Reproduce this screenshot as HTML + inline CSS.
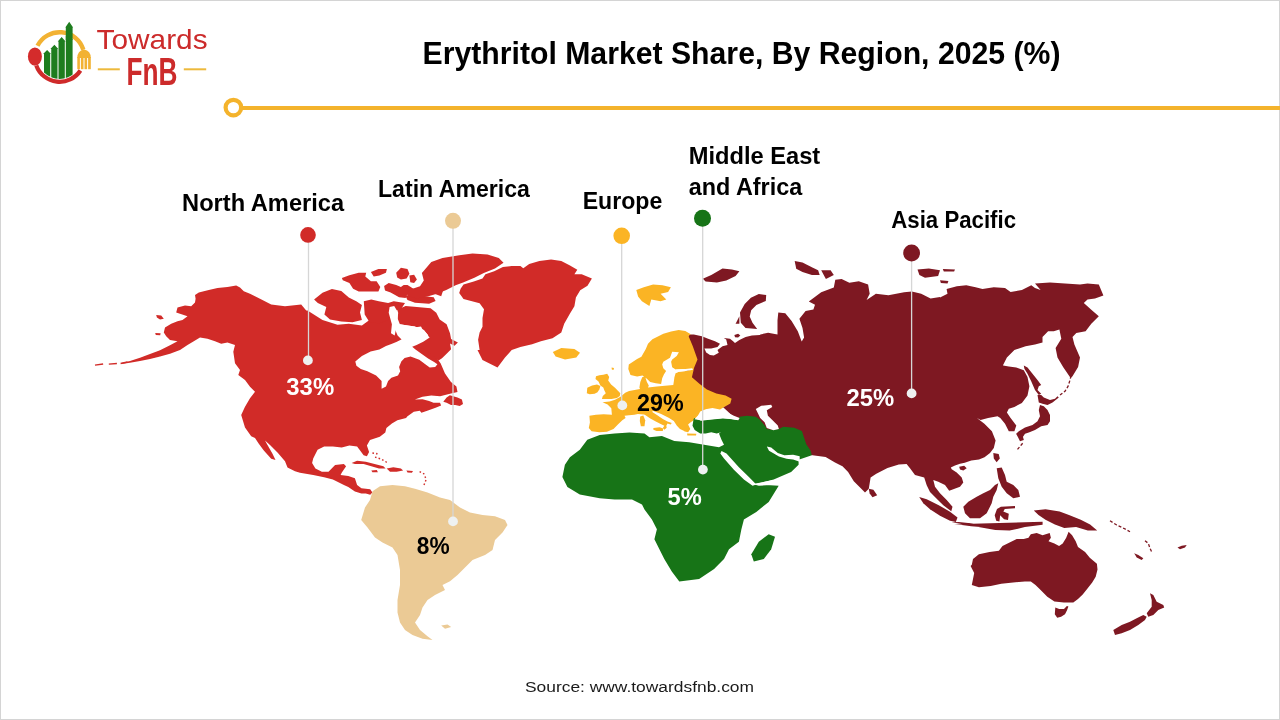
<!DOCTYPE html>
<html><head><meta charset="utf-8">
<style>
html,body{margin:0;padding:0;background:#fff;}
body{width:1280px;height:720px;overflow:hidden;position:relative;}
svg{position:absolute;left:0;top:0;display:block;will-change:transform;}
text{font-family:"Liberation Sans",sans-serif;}
</style></head>
<body>
<svg width="1280" height="720" viewBox="0 0 1280 720">
<rect x="0.5" y="0.5" width="1279" height="719" fill="#fff" stroke="#d4d4d4" stroke-width="1"/>
<!-- logo -->
<g id="logo">
  <defs><clipPath id="bc"><circle cx="59.6" cy="57" r="22"/></clipPath></defs>
  <path d="M37.50 45.74 A24.8 24.8 0 0 1 83.32 49.75" fill="none" stroke="#F2B233" stroke-width="4.4"/>
  <path d="M36.30 65.48 A24.8 24.8 0 0 0 80.40 70.51" fill="none" stroke="#CF2A2A" stroke-width="4.2"/>
  <ellipse cx="34.9" cy="56.6" rx="7" ry="9.2" fill="#D42B2B"/>
  <g fill="#F2B233">
    <path d="M77.3 58 Q77.3 50.8 84 49.6 Q90.8 50.8 90.8 58 Z"/>
    <rect x="77.3" y="57" width="2.6" height="12.2"/>
    <rect x="80.9" y="57" width="2.6" height="12.2"/>
    <rect x="84.5" y="57" width="2.6" height="12.2"/>
    <rect x="88.1" y="57" width="2.7" height="12.2"/>
  </g>
  <g fill="#1E7D1E" clip-path="url(#bc)">
    <path d="M44 90 L44 54 L43.1 54 L47.1 50 L51 54 L50.2 54 L50.2 90 Z"/>
    <path d="M51.25 90 L51.25 48.9 L50.4 48.9 L54.4 44.7 L58.3 48.9 L57.5 48.9 L57.5 90 Z"/>
    <path d="M58.5 90 L58.5 41.6 L57.7 41.6 L61.65 36.9 L65.6 41.6 L64.8 41.6 L64.8 90 Z"/>
    <path d="M65.8 90 L65.8 27.5 L65.3 27.5 L69.2 21.8 L73.1 27.5 L72.6 27.5 L72.6 90 Z"/>
  </g>
  <path d="M65.8 40 L65.8 27.5 L65.3 27.5 L69.2 21.8 L73.1 27.5 L72.6 27.5 L72.6 40 Z" fill="#1E7D1E"/>
  <text x="96.6" y="49.3" font-size="28.5" font-weight="normal" fill="#CC2B2B" textLength="111" lengthAdjust="spacingAndGlyphs">Towards</text>
  <text x="126.4" y="84.5" font-size="38" font-weight="bold" fill="#CC2B2B" textLength="51" lengthAdjust="spacingAndGlyphs">FnB</text>
  <rect x="97.8" y="68.3" width="22" height="2" fill="#EDB93C"/>
  <rect x="183.8" y="68.3" width="22.4" height="2" fill="#EDB93C"/>
</g>
<!-- title -->
<text x="422.5" y="63.8" font-size="31.5" font-weight="bold" fill="#000" textLength="638" lengthAdjust="spacingAndGlyphs">Erythritol Market Share, By Region, 2025 (%)</text>
<!-- yellow rule -->
<rect x="241" y="106" width="1039" height="4" fill="#F4B32C"/>
<circle cx="233.4" cy="107.6" r="7.8" fill="#fff" stroke="#F4B32C" stroke-width="4.2"/>

<g id="map">
<g fill="#D12B28">
<path d="M235.0 345.0 L227.5 342.5 L221.2 343.8 L215.0 341.2 L207.5 338.8 L200.0 337.5 L193.8 341.2 L187.5 345.0 L180.0 350.0 L170.0 353.8 L160.0 356.5 L150.0 359.0 L140.0 361.0 L130.0 362.8 L121.2 364.0 L121.2 363.0 L130.0 361.0 L140.0 357.8 L150.0 354.0 L160.0 350.2 L170.0 345.2 L177.5 341.2 L170.0 340.0 L166.2 336.2 L163.8 332.5 L165.0 327.5 L171.2 323.8 L177.5 321.2 L182.5 320.0 L187.5 316.2 L180.0 313.8 L176.2 312.5 L177.5 307.5 L185.0 305.6 L191.2 306.2 L195.0 302.5 L195.6 298.8 L195.0 295.0 L198.8 292.5 L208.8 290.0 L217.5 288.1 L227.5 286.9 L236.2 285.6 L240.0 287.5 L243.8 291.2 L250.0 293.8 L260.0 298.8 L271.2 304.5 L285.0 306.2 L301.2 304.5 L306.2 310.5 L307.5 310.6 L322.5 320.0 L337.5 324.7 L348.8 323.8 L361.9 325.6 L372.2 318.1 L376.9 308.8 L384.4 305.0 L391.9 306.9 L394.7 314.4 L393.8 321.9 L397.5 329.4 L402.2 333.1 L412.5 342.5 L431.3 350.0 L440.7 363.6 L445.0 373.5 L452.7 384.4 L445.5 375.5 L451.0 382.0 L456.4 386.4 L457.5 391.9 L451.0 393.5 L440.0 396.3 L431.3 395.4 L422.5 396.8 L414.9 399.5 L422.5 399.3 L429.1 400.9 L433.5 402.8 L440.0 402.8 L441.1 405.6 L435.6 407.7 L428.0 410.5 L421.4 412.7 L419.8 410.7 L413.8 411.8 L407.2 416.5 L406.1 418.1 L397.4 420.3 L391.9 423.6 L386.4 428.0 L385.3 432.4 L379.8 436.7 L370.0 440.0 L366.9 445.4 L369.1 451.9 L366.9 456.3 L363.6 455.2 L360.3 450.8 L357.1 446.5 L349.4 445.4 L341.7 447.6 L332.9 446.5 L324.1 446.5 L317.6 449.7 L313.2 458.5 L312.1 462.9 L315.4 468.4 L321.9 471.7 L328.5 471.7 L332.9 467.3 L335.1 465.1 L343.9 464.0 L346.1 466.2 L341.7 472.8 L340.6 475.0 L348.3 476.1 L354.9 478.3 L357.1 484.9 L361.4 488.2 L370.2 489.2 L372.4 492.5 L370.2 494.7 L365.8 493.6 L361.4 493.6 L354.9 491.4 L348.3 487.1 L343.9 484.9 L332.9 479.4 L324.1 477.2 L313.2 475.0 L300.0 472.8 L295.0 471.2 L287.5 467.5 L285.0 461.2 L277.5 452.5 L270.0 445.0 L265.0 440.5 L267.5 445.0 L272.5 453.8 L275.5 460.0 L271.2 458.8 L263.8 450.5 L258.8 443.8 L255.0 438.0 L251.2 436.2 L245.0 427.5 L241.2 415.0 L245.0 406.7 L250.0 398.3 L255.0 391.7 L250.0 386.7 L245.0 380.0 L238.3 375.0 L240.0 370.0 L235.0 363.3 L233.3 351.7Z"/>
<path d="M397.6 309.4 L405.6 305.9 L416.9 307.1 L430.6 308.2 L436.3 312.8 L439.7 319.6 L446.6 324.2 L450.0 333.3 L451.1 339.0 L457.9 342.4 L454.5 345.8 L450.0 343.5 L451.1 349.2 L446.6 353.8 L442.0 358.3 L438.6 360.6 L432.9 356.1 L428.3 351.5 L419.2 346.9 L411.3 345.8 L409.0 343.5 L414.7 341.3 L423.8 340.1 L428.3 335.6 L423.8 329.9 L414.7 326.4 L405.6 325.3 L399.9 324.2 L397.6 318.5Z"/>
<path d="M341.9 278.0 L349.4 275.2 L358.7 272.8 L366.2 272.8 L365.3 276.6 L370.9 281.2 L376.6 281.2 L380.3 286.9 L378.4 291.6 L368.1 291.6 L358.7 291.6 L353.1 288.7 L349.4 283.1 L342.8 280.3Z"/>
<path d="M370.9 271.9 L378.4 269.1 L386.9 269.1 L385.9 272.8 L379.4 275.6 L373.7 276.6Z"/>
<path d="M396.2 272.8 L400.9 267.7 L407.5 269.1 L409.4 273.7 L406.6 278.4 L400.9 279.4 L397.2 277.5Z"/>
<path d="M409.4 275.6 L414.1 274.7 L416.9 279.4 L414.1 283.1 L410.3 282.2Z"/>
<path d="M384.1 285.9 L388.7 283.1 L396.2 285.0 L400.9 286.9 L403.7 285.0 L407.5 285.0 L415.0 289.7 L422.5 287.8 L430.0 283.1 L433.7 285.0 L443.1 290.6 L441.2 296.2 L433.7 293.4 L424.4 292.5 L417.8 292.5 L413.1 294.4 L407.5 294.4 L405.6 298.1 L399.1 297.2 L390.6 292.5 L385.0 290.6Z"/>
<path d="M405.6 296.2 L411.2 294.4 L424.4 296.2 L433.7 297.2 L435.6 300.9 L429.1 303.7 L415.0 302.8 L407.5 300.0Z"/>
<path d="M421.9 273.1 L431.3 261.9 L442.5 258.1 L459.4 255.3 L472.5 253.4 L487.5 254.4 L498.8 258.1 L503.5 262.8 L495.0 268.4 L483.8 273.1 L474.4 277.8 L463.1 282.5 L455.6 285.3 L446.3 290.0 L436.9 293.8 L427.5 296.6 L416.3 298.4 L406.9 295.6 L408.8 290.0 L420.0 286.3 L423.8 280.6Z"/>
<path d="M314.1 299.4 L322.5 292.8 L331.9 289.1 L341.3 290.9 L348.8 297.5 L356.3 301.3 L361.9 305.0 L360.0 312.5 L361.9 320.0 L352.5 322.3 L341.3 321.5 L330.0 319.6 L324.4 314.4 L326.3 306.9 L317.8 303.1Z"/>
<path d="M363.8 301.3 L371.3 299.4 L378.8 301.3 L388.1 303.1 L393.8 301.3 L405.0 303.1 L401.3 308.8 L391.9 312.5 L388.1 320.0 L378.8 323.4 L369.4 321.9 L364.7 314.4Z"/>
<path d="M443.3 401.7 L446.6 397.4 L449.9 395.2 L453.2 396.3 L457.5 397.4 L461.9 399.5 L463.0 403.9 L459.7 406.1 L455.3 405.0 L451.0 405.0 L446.6 402.8Z"/>
<path d="M351.6 462.9 L357.1 460.7 L365.8 461.8 L374.6 464.0 L383.4 466.2 L385.6 468.4 L379.0 468.4 L371.3 466.2 L363.6 464.0 L354.9 464.0Z"/>
<path d="M386.7 468.4 L393.3 467.3 L400.9 468.4 L403.1 470.6 L396.6 471.7 L390.0 471.7Z"/>
<path d="M371.3 470.6 L376.8 470.0 L377.9 472.2 L372.4 472.2Z"/>
<path d="M406.4 470.6 L413.0 471.1 L411.9 472.8 L407.5 472.6Z"/>
<path d="M156.2 315.0 L161.2 315.6 L163.8 318.8 L160.0 319.4 L156.9 317.5Z"/>
<path d="M155.2 333.1 L160.6 333.2 L160.2 335.2 L155.8 335.0Z"/>
<path d="M460.6 288.8 L463.5 284.4 L473.8 281.5 L482.5 278.5 L485.4 274.2 L494.2 271.3 L502.9 266.9 L511.7 266.1 L520.4 266.1 L523.3 268.3 L529.2 264.0 L539.4 261.0 L551.1 259.6 L561.3 261.0 L570.0 265.4 L577.3 269.8 L574.4 274.2 L581.7 274.2 L591.9 278.5 L587.5 285.8 L580.2 290.2 L575.9 297.5 L574.4 306.3 L570.0 313.6 L564.2 323.8 L561.3 332.5 L552.5 338.3 L540.9 341.3 L532.1 344.2 L520.4 347.1 L511.7 350.0 L505.0 357.5 L497.5 367.5 L492.5 365.0 L482.5 360.0 L477.5 350.0 L479.6 350.0 L478.1 339.8 L479.6 332.5 L482.5 326.7 L482.5 317.9 L484.0 309.2 L479.6 303.3 L463.5 299.0 L459.2 293.1Z"/>
<path d="M95.0 365.2 L103.1 364.0" stroke="#D12B28" stroke-width="1.3" fill="none"/>
<path d="M108.8 364.2 L116.9 363.5" stroke="#D12B28" stroke-width="1.3" fill="none"/>
<path d="M120.6 363.5 L127.5 362.0" stroke="#D12B28" stroke-width="1.3" fill="none"/>
<path d="M372.4 453.0 L376.8 453.6 L375.7 457.4 L381.2 459.1 L387.8 462.9" stroke="#D12B28" stroke-width="1.4" stroke-dasharray="1.6 2.2" fill="none"/>
<path d="M419.6 471.7 L424.0 473.9 L426.2 479.4 L424.0 484.9" stroke="#D12B28" stroke-width="1.4" stroke-dasharray="1.6 2.2" fill="none"/>
</g>
<path fill="#fff" d="M355.3 361.4 L361.9 356.0 L370.6 351.6 L379.4 349.4 L386.0 346.1 L391.4 343.9 L396.9 341.7 L401.3 339.5 L407.8 335.2 L414.4 327.5 L421.0 326.4 L423.2 330.8 L418.8 334.1 L427.5 335.2 L429.7 337.4 L423.2 341.7 L416.6 345.0 L412.2 346.7 L415.5 349.4 L422.1 354.3 L428.1 358.4 L434.1 362.0 L437.4 364.2 L435.2 366.9 L429.7 367.4 L425.3 364.2 L419.3 359.8 L410.6 356.5 L404.6 358.1 L401.3 361.4 L399.1 366.9 L400.2 371.3 L398.0 375.6 L391.4 377.8 L388.1 381.1 L386.0 386.6 L381.6 388.8 L381.6 381.1 L376.1 375.6 L367.4 371.3 L360.8 369.1 L356.4 365.8Z"/>
<path fill="#fff" d="M399.9 324.2 L414.7 326.4 L423.8 329.9 L428.3 335.6 L423.8 340.1 L414.7 341.3 L409.0 343.5 L403.3 341.3 L397.6 335.6 L394.2 327.6Z"/>
<path fill="#fff" d="M389.6 307.1 L394.2 305.9 L398.2 312.8 L397.0 324.2 L394.7 335.6 L391.0 333.3 L391.9 324.2 L388.7 312.8Z"/>
<path fill="#7E1822" d="M688.5 335.9 L689.4 334.4 L693.8 334.4 L701.9 336.2 L708.1 338.8 L715.0 341.2 L720.0 343.8 L717.5 346.9 L711.2 348.4 L704.4 348.4 L706.2 352.5 L710.0 355.0 L713.8 355.6 L718.8 352.8 L717.5 350.0 L722.5 346.2 L727.5 345.0 L726.2 339.4 L723.8 338.1 L730.0 338.8 L733.1 341.2 L735.0 343.1 L739.4 340.0 L745.6 336.9 L751.9 335.6 L760.0 335.0 L760.3 334.4 L768.1 332.8 L777.5 334.4 L777.5 320.3 L778.3 312.5 L785.3 313.3 L791.6 321.1 L797.8 331.2 L801.7 341.4 L804.1 337.5 L802.5 328.1 L799.4 318.8 L805.6 310.9 L813.4 309.4 L815.0 304.7 L808.8 301.6 L821.2 292.2 L833.8 287.5 L835.3 279.7 L841.6 278.9 L849.4 282.8 L858.8 281.2 L868.1 284.4 L869.7 293.8 L866.6 300.0 L875.9 293.8 L888.4 295.3 L904.1 292.2 L911.9 291.4 L921.2 293.8 L930.6 298.4 L940.0 296.9 L940.0 297.5 L947.5 293.8 L946.6 289.1 L956.9 286.3 L966.3 285.3 L975.6 287.2 L982.5 289.1 L993.8 287.2 L1005.0 288.1 L1010.6 291.9 L1021.9 290.0 L1031.3 285.3 L1035.0 288.1 L1040.6 290.0 L1035.0 283.4 L1050.0 282.5 L1065.0 283.4 L1080.0 284.4 L1087.5 283.4 L1098.8 284.4 L1103.4 295.6 L1095.0 298.4 L1087.5 299.4 L1083.8 303.1 L1091.3 309.7 L1098.8 316.3 L1091.3 323.8 L1085.6 331.3 L1076.3 333.1 L1072.5 336.9 L1074.4 344.4 L1080.0 357.5 L1078.1 366.9 L1072.5 376.3 L1070.6 378.1 L1063.1 366.9 L1057.5 357.5 L1055.6 348.1 L1061.3 338.8 L1059.4 329.4 L1053.8 331.3 L1048.1 331.3 L1042.5 336.9 L1042.5 342.5 L1035.0 344.4 L1025.6 346.3 L1014.4 350.0 L1006.9 357.5 L1003.1 365.0 L1003.1 365.6 L1008.8 366.6 L1016.3 367.5 L1023.8 370.3 L1027.5 376.9 L1029.4 386.3 L1027.5 395.6 L1021.9 403.1 L1014.4 406.9 L1008.8 408.8 L1006.9 412.5 L1010.6 418.1 L1016.3 425.6 L1014.4 431.3 L1008.8 431.3 L1005.0 423.8 L1000.3 418.1 L997.5 416.3 L988.1 418.1 L980.6 420.0 L976.9 418.1 L984.4 423.8 L991.9 431.3 L995.6 440.6 L993.8 448.1 L990.0 452.9 L984.5 457.3 L979.0 459.5 L971.3 460.6 L964.7 462.8 L968.3 462.1 L960.0 463.8 L955.0 465.4 L950.8 467.5 L951.7 469.2 L956.7 472.5 L961.7 477.5 L963.3 482.5 L960.0 486.7 L953.3 489.2 L949.2 490.8 L945.0 485.0 L938.3 481.7 L933.3 480.0 L935.0 486.7 L940.0 493.3 L946.7 500.0 L952.5 506.7 L951.3 511.3 L943.3 505.3 L936.7 498.7 L930.0 492.0 L926.7 485.3 L924.2 477.5 L915.0 475.0 L910.0 468.3 L906.6 463.9 L898.8 464.4 L887.5 468.1 L876.3 473.8 L870.6 477.5 L868.8 488.8 L865.0 492.5 L861.3 488.8 L853.8 481.3 L848.1 471.9 L842.5 466.3 L835.0 462.5 L825.6 456.9 L810.6 455.0 L808.5 450.8 L799.7 446.4 L777.8 439.9 L755.8 431.1 L739.4 422.3 L722.9 406.9 L682.5 395.0 L686.3 376.3 L682.5 357.5 L682.5 348.1Z"/>
<g fill="#7E1822"><path d="M971.8 564.8 L973.0 558.9 L978.9 554.2 L989.5 551.9 L998.9 550.7 L1002.5 546.0 L1009.6 542.4 L1016.7 538.9 L1023.7 538.9 L1028.5 537.7 L1030.8 534.2 L1036.7 533.0 L1042.6 535.3 L1049.7 533.0 L1050.9 537.7 L1048.5 541.2 L1054.4 543.6 L1059.1 546.0 L1062.7 543.6 L1066.2 537.7 L1068.6 531.8 L1072.1 535.3 L1075.7 541.2 L1078.0 547.1 L1085.1 551.9 L1089.8 557.8 L1096.9 563.7 L1097.5 569.6 L1095.7 576.7 L1092.2 582.6 L1087.5 588.5 L1082.7 594.4 L1078.0 599.1 L1073.3 602.6 L1063.9 602.6 L1054.4 601.4 L1047.3 596.7 L1042.6 592.0 L1039.1 588.5 L1035.5 584.9 L1030.8 581.4 L1024.9 581.4 L1013.1 582.6 L1001.3 583.7 L990.7 586.1 L978.9 587.3 L971.8 584.9 L973.0 579.0 L974.2 573.1 L970.6 566.0Z"/><path d="M1055.3 607.5 L1059.2 609.0 L1064.0 609.0 L1066.9 606.0 L1068.4 606.5 L1066.9 610.4 L1065.0 614.3 L1061.1 616.7 L1057.2 617.7 L1054.8 614.3Z"/><path d="M1033.8 510.4 L1045.5 509.2 L1059.6 511.6 L1069.0 515.1 L1080.8 519.8 L1090.1 524.5 L1097.2 530.4 L1087.8 530.4 L1076.1 526.9 L1064.3 528.0 L1054.9 524.5 L1045.5 519.8 L1038.5 515.1Z"/><path d="M963.3 506.7 L968.3 501.7 L976.7 496.7 L983.3 493.3 L990.0 490.0 L995.0 485.0 L998.3 483.3 L996.7 490.0 L993.3 496.7 L991.7 503.3 L986.7 513.3 L980.0 518.3 L970.0 518.3 L965.0 513.3Z"/><path d="M997.0 509.1 L1000.9 506.7 L1015.0 505.9 L1015.0 508.3 L1004.8 509.1 L1003.3 511.4 L1008.8 513.8 L1008.0 520.0 L1004.1 519.2 L1000.2 515.3 L999.4 521.6 L996.2 520.8 L994.7 515.3Z"/><path d="M996.7 468.3 L1001.7 467.5 L1005.0 475.0 L1006.7 481.7 L1013.3 485.0 L1018.3 490.0 L1020.0 496.7 L1013.3 498.3 L1006.7 493.3 L1001.7 486.7 L998.3 478.3Z"/><path d="M919.2 497.0 L926.7 499.2 L938.3 505.0 L950.0 511.7 L957.5 517.5 L955.8 522.0 L950.0 520.8 L940.0 515.8 L930.0 509.2 L923.3 503.3Z"/><path d="M951.7 522.3 L958.8 522.0 L968.1 523.1 L979.1 525.1 L985.3 526.2 L993.1 526.6 L1000.9 526.2 L1015.0 526.2 L1015.0 527.8 L1007.2 528.6 L997.0 529.4 L989.2 528.2 L980.6 527.0 L971.2 526.2 L961.9 525.1 L954.1 524.3 L1042.6 521.8 L1042.6 524.7 L1024.9 527.1 L1009.6 530.6 L995.4 530.0Z"/><path d="M1040.0 405.0 L1043.8 406.2 L1047.5 410.0 L1050.0 415.0 L1050.0 421.2 L1047.5 425.0 L1041.2 426.2 L1035.0 430.0 L1028.8 432.5 L1025.0 433.8 L1022.5 437.5 L1018.8 436.2 L1016.2 433.8 L1018.8 431.2 L1025.0 427.5 L1032.5 425.0 L1037.5 421.2 L1040.0 416.2 L1038.8 410.0Z"/><path d="M1037.5 395.0 L1041.2 395.0 L1043.8 397.5 L1050.0 400.0 L1055.0 398.8 L1057.5 396.2 L1058.8 397.5 L1052.5 402.5 L1047.5 405.0 L1042.5 403.8 L1038.8 402.5Z"/><path d="M1023.8 365.6 L1027.5 367.5 L1032.5 373.8 L1037.5 380.0 L1041.2 385.0 L1038.8 386.2 L1037.5 390.0 L1041.2 393.8 L1038.8 395.0 L1035.0 390.0 L1031.2 381.2 L1027.5 373.8 L1024.4 368.8Z"/><path d="M1016.2 433.8 L1022.5 435.0 L1023.8 440.0 L1020.0 441.2Z"/><path d="M993.3 452.9 L998.7 454.0 L999.8 458.4 L996.6 462.2 L993.8 458.4Z"/><path d="M868.8 488.8 L873.4 489.7 L877.2 495.3 L872.5 497.2 L869.7 493.4Z"/><path d="M959.2 466.7 L964.2 465.8 L966.7 468.3 L963.3 470.4 L960.0 469.6Z"/><path d="M1150.0 593.3 L1153.3 595.0 L1156.7 601.7 L1163.3 605.0 L1164.2 607.5 L1158.3 610.0 L1153.3 615.0 L1148.3 616.7 L1146.7 613.3 L1151.7 606.7 L1151.7 600.0Z"/><path d="M1113.3 630.0 L1121.7 625.0 L1130.0 621.7 L1136.7 618.3 L1143.3 615.0 L1146.7 616.7 L1145.0 620.0 L1138.3 625.0 L1130.0 630.0 L1121.7 633.3 L1115.0 635.0Z"/><path d="M1134.2 553.3 L1138.3 555.0 L1143.3 558.3 L1141.7 560.0 L1136.7 557.5Z"/><path d="M1177.5 547.5 L1181.7 545.8 L1186.7 545.0 L1185.0 547.5 L1180.0 549.2Z"/><path d="M794.7 260.9 L802.5 262.5 L811.9 267.2 L818.1 270.3 L819.7 275.0 L811.9 275.0 L802.5 271.9 L796.2 268.8Z"/><path d="M821.2 270.3 L830.6 270.3 L833.8 275.0 L825.9 278.9Z"/><path d="M917.5 269.4 L928.8 268.4 L940.0 270.3 L938.1 275.9 L925.0 277.8 L919.4 275.0Z"/><path d="M942.8 269.0 L955.0 269.4 L954.1 271.6 L943.8 271.6Z"/><path d="M940.0 280.3 L948.4 281.0 L947.5 283.4 L940.9 282.9Z"/><path d="M734.4 335.0 L738.1 333.8 L740.3 335.6 L738.1 337.5 L735.0 337.2Z"/><path d="M702.8 278.8 L711.3 275.0 L722.5 268.4 L731.9 269.4 L739.4 271.3 L735.6 275.9 L726.3 280.6 L716.9 282.5 L705.6 281.6Z"/><path d="M766.2 295.0 L758.8 294.1 L750.9 297.7 L744.7 303.9 L740.0 312.5 L740.8 322.7 L745.5 328.1 L757.2 328.9 L752.5 322.7 L749.7 316.4 L751.2 310.2 L756.4 305.0 L765.8 300.9Z"/><path d="M739.4 323.8 L739.4 316.3 L735.6 323.8Z"/></g>
<g fill="none" stroke="#7E1822" stroke-width="1.3" stroke-dasharray="3 2"><path d="M1110.0 520.8 L1116.7 525.0 L1123.7 528.3 L1130.0 531.7"/><path d="M1145.0 540.8 L1148.3 543.3 L1150.0 548.3 L1151.7 552.0"/><path d="M1060.0 395.0 L1065.0 391.2 L1068.1 386.2 L1070.0 380.0 L1071.2 375.0"/><path d="M1017.5 449.4 L1021.2 445.0 L1023.8 441.9"/></g>
<path fill="#FBB424" d="M628.3 368.9 L628.8 364.5 L637.1 359.0 L641.4 356.8 L645.8 349.1 L648.0 343.7 L652.4 339.3 L663.4 333.8 L671.1 331.6 L678.7 329.9 L685.3 331.0 L690.8 334.3 L688.5 335.9 L692.8 346.3 L697.5 359.4 L694.1 367.8 L691.9 377.2 L699.4 383.8 L706.9 389.4 L716.3 393.5 L725.6 395.4 L731.6 398.8 L730.3 403.4 L723.8 407.2 L720.0 409.6 L712.5 408.1 L706.9 409.1 L705.7 409.3 L700.2 411.5 L698.0 415.8 L695.8 419.1 L690.3 422.4 L688.1 424.6 L690.3 429.0 L688.1 432.3 L683.7 431.2 L684.7 431.2 L680.0 428.9 L676.9 425.8 L673.8 421.1 L669.1 418.0 L661.2 414.1 L653.4 410.9 L651.9 411.7 L657.3 415.2 L662.8 419.1 L667.5 421.5 L671.8 423.0 L670.6 424.6 L667.5 423.4 L666.3 425.8 L666.7 427.7 L664.4 429.7 L662.8 428.1 L664.4 425.8 L661.2 424.2 L655.8 421.5 L650.3 418.4 L645.6 415.2 L644.1 414.5 L637.8 414.1 L634.4 414.7 L628.9 415.3 L624.5 415.8 L625.6 418.0 L622.3 420.2 L617.9 424.6 L613.5 429.0 L606.9 431.8 L599.3 432.3 L591.6 431.2 L588.8 427.9 L589.9 422.4 L589.4 415.8 L596.0 414.7 L603.7 414.2 L611.9 414.7 L611.3 408.2 L607.6 404.5 L602.5 402.2 L609.5 401.4 L615.0 399.8 L620.5 396.7 L625.2 392.8 L629.1 390.9 L640.0 388.9 L639.4 387.5 L640.3 381.9 L642.2 377.2 L645.0 376.3 L646.9 381.9 L648.8 385.6 L648.0 387.5 L656.8 386.4 L673.3 385.0 L673.9 381.1 L674.4 377.2 L675.6 373.3 L678.9 371.7 L686.1 371.1 L691.4 369.4 L685.6 368.9 L675.6 369.4 L672.2 367.2 L671.1 361.7 L672.2 359.4 L676.7 356.1 L678.9 352.2 L672.2 351.7 L670.0 357.8 L663.3 361.7 L662.2 364.4 L663.3 368.3 L666.1 371.1 L663.9 374.4 L662.2 378.3 L661.1 383.9 L655.7 383.2 L650.2 382.1 L646.9 378.8 L642.5 375.5 L637.1 376.6 L630.5 374.9Z"/>
<g fill="#FBB424"><path d="M596.0 376.2 L599.4 375.2 L603.3 374.7 L607.2 373.7 L609.2 377.1 L608.2 380.5 L611.1 384.4 L615.0 387.8 L617.9 390.8 L620.3 393.2 L619.8 396.1 L616.9 398.0 L611.6 399.0 L607.2 399.0 L601.9 399.0 L602.8 396.1 L605.8 393.2 L604.3 390.3 L603.3 387.4 L600.4 385.4 L598.5 381.5 L595.5 379.1Z"/><path d="M587.3 387.8 L592.1 385.4 L597.0 384.4 L600.4 385.9 L599.4 389.3 L597.5 392.2 L594.6 393.7 L589.7 394.2 L586.8 393.2Z"/><path d="M611.6 367.4 L614.0 367.9 L613.5 369.9 L611.8 369.6Z"/><path d="M653.4 428.1 L659.7 427.3 L663.2 428.5 L662.8 430.9 L656.6 430.9 L653.4 429.7Z"/><path d="M640.2 416.4 L643.3 415.6 L645.2 420.3 L644.5 426.2 L640.9 426.2 L639.8 421.1Z"/><path d="M687.0 433.6 L696.4 433.8 L696.0 435.5 L687.4 435.5Z"/><path d="M636.3 290.0 L643.8 287.2 L653.1 284.4 L662.5 285.3 L670.9 287.2 L668.1 291.9 L660.6 293.8 L666.3 299.4 L660.6 301.3 L651.3 299.4 L649.4 305.9 L641.9 301.3 L638.1 296.6Z"/><path d="M552.8 351.9 L561.3 348.1 L574.4 349.1 L580.0 352.8 L576.3 357.5 L565.0 359.4 L555.6 356.6Z"/></g>
<path fill="#177417" d="M693.6 419.1 L694.4 417.9 L701.0 420.7 L711.9 419.6 L722.9 418.5 L731.7 419.0 L738.8 420.3 L739.4 416.8 L747.1 415.7 L755.8 416.8 L760.2 420.1 L765.7 426.7 L766.8 428.9 L773.4 430.0 L778.9 428.9 L783.3 426.7 L794.2 427.8 L801.9 431.1 L804.1 437.7 L806.3 444.2 L810.7 450.8 L811.8 455.2 L798.6 459.7 L798.6 464.7 L791.1 472.1 L773.7 479.6 L763.8 482.1 L753.8 484.6 L761.3 484.6 L778.7 485.8 L768.7 502.0 L756.3 511.9 L743.9 519.4 L741.4 529.3 L738.9 541.7 L729.0 549.2 L724.0 559.1 L714.1 569.1 L699.1 579.0 L679.3 581.5 L671.8 571.6 L664.3 559.1 L659.4 549.2 L654.4 539.3 L656.9 529.3 L651.9 519.4 L644.5 509.4 L642.0 504.5 L632.0 499.5 L614.6 499.5 L599.7 498.2 L579.8 494.5 L567.4 487.1 L562.4 477.1 L564.9 464.7 L569.9 457.2 L579.8 449.8 L587.3 439.8 L599.7 434.9 L614.6 433.6 L629.5 432.4 L644.5 433.6 L649.4 437.3 L661.9 436.1 L674.3 441.1 L689.2 442.3 L704.1 444.8 L719.0 447.3 L724.0 444.8 L721.5 439.8 L719.0 433.6 L721.1 432.3 L716.7 433.4 L711.2 432.3 L705.7 433.4 L700.2 433.4 L694.7 430.1 L692.5 425.7Z"/>
<path fill="#177417" d="M751.3 554.2 L758.8 541.7 L768.7 534.3 L775.0 536.8 L771.2 549.2 L763.8 559.1 L753.8 561.6Z"/>
<path fill="#EBCA95" d="M372.5 491.2 L380.0 486.2 L392.5 485.0 L405.0 486.2 L415.0 488.8 L427.5 492.5 L440.0 497.5 L450.0 500.0 L460.0 507.5 L470.0 512.5 L482.5 515.0 L495.0 516.2 L505.0 520.0 L507.5 525.0 L502.5 532.5 L495.0 540.0 L492.5 550.0 L485.0 555.0 L472.5 560.0 L465.0 567.5 L457.5 575.0 L450.0 581.2 L442.5 585.0 L445.0 590.0 L435.0 595.0 L427.5 600.0 L422.5 607.5 L420.0 615.0 L415.0 622.5 L420.0 630.0 L427.5 636.2 L432.5 640.0 L422.5 638.8 L412.5 635.0 L405.0 630.0 L400.0 622.5 L397.5 612.5 L397.5 600.0 L400.0 585.0 L400.0 570.0 L397.5 555.0 L392.5 547.5 L382.5 542.5 L375.0 537.5 L367.5 527.5 L361.2 520.0 L365.0 507.5 L370.0 500.0Z"/>
<path fill="#EBCA95" d="M441.2 625.5 L447.5 624.5 L451.2 627.0 L445.0 628.8Z"/>
<g fill="#fff"><path d="M675.6 369.4 L685.6 368.9 L692.2 368.3 L693.1 369.7 L686.1 371.1 L678.9 371.7 L675.6 372.8Z"/><path d="M699.9 413.5 L706.5 409.4 L714.1 410.5 L721.8 412.4 L727.3 412.6 L733.9 415.7 L739.6 418.1 L738.3 420.3 L731.7 419.2 L722.9 418.1 L711.9 419.2 L701.0 420.3 L694.4 419.2Z"/><path d="M721.5 451.0 L726.5 453.5 L738.9 467.2 L748.9 477.1 L756.3 484.6 L752.6 485.8 L743.9 479.6 L733.9 469.7 L724.0 458.5 L720.3 453.5Z"/><path d="M766.8 446.4 L771.2 447.5 L777.8 453.0 L784.4 455.2 L793.1 454.7 L799.7 456.3 L799.7 461.8 L793.1 459.6 L786.6 458.7 L778.9 456.5 L773.4 453.2 L769.0 450.8Z"/><path d="M752.6 484.1 L773.7 480.1 L788.6 480.8 L778.7 484.6 L758.8 485.8Z"/><path d="M755.8 409.1 L761.3 405.8 L771.2 404.7 L772.3 406.9 L766.8 410.2 L767.9 415.7 L772.3 420.1 L777.8 425.6 L778.9 428.9 L773.4 430.2 L766.8 428.0 L764.6 422.3 L760.2 417.9 L758.0 413.5Z"/></g>
</g><!--endmap-->

<!-- leader lines -->
<g stroke="#D6D6D6" stroke-width="1.3">
  <line x1="308.5" y1="235" x2="308.5" y2="360"/>
  <line x1="453" y1="221" x2="453" y2="521"/>
  <line x1="621.7" y1="236" x2="621.7" y2="405"/>
  <line x1="702.7" y1="218" x2="702.7" y2="469.5"/>
  <line x1="911.6" y1="253" x2="911.6" y2="393.4"/>
</g>
<circle cx="308" cy="234.9" r="7.8" fill="#D12B28"/>
<circle cx="453" cy="220.8" r="8" fill="#EBCA95"/>
<circle cx="621.7" cy="235.8" r="8.3" fill="#FBB424"/>
<circle cx="702.5" cy="218.3" r="8.5" fill="#177417"/>
<circle cx="911.6" cy="253" r="8.4" fill="#7E1822"/>
<g fill="#EEF1F1">
  <circle cx="307.9" cy="360.4" r="4.9"/>
  <circle cx="453" cy="521.4" r="4.9"/>
  <circle cx="622.3" cy="405.4" r="4.9"/>
  <circle cx="702.9" cy="469.6" r="4.9"/>
  <circle cx="911.6" cy="393.4" r="4.9"/>
</g>
<!-- region labels -->
<g font-weight="bold" fill="#000" font-size="23">
  <text x="182.1" y="210.8" textLength="162.0" lengthAdjust="spacingAndGlyphs">North America</text>
  <text x="378.0" y="196.9" textLength="151.9" lengthAdjust="spacingAndGlyphs">Latin America</text>
  <text x="582.7" y="208.8" textLength="79.6" lengthAdjust="spacingAndGlyphs">Europe</text>
  <text x="688.7" y="163.5" textLength="131.5" lengthAdjust="spacingAndGlyphs">Middle East</text>
  <text x="688.7" y="195.1" textLength="113.5" lengthAdjust="spacingAndGlyphs">and Africa</text>
  <text x="891.3" y="227.8" textLength="124.7" lengthAdjust="spacingAndGlyphs">Asia Pacific</text>
</g>
<!-- percentages -->
<g font-weight="bold" font-size="23">
  <text x="286.3" y="394.9" fill="#fff" textLength="47.9" lengthAdjust="spacingAndGlyphs">33%</text>
  <text x="416.8" y="554.4" fill="#000" textLength="32.8" lengthAdjust="spacingAndGlyphs">8%</text>
  <text x="637.1" y="410.6" fill="#000" textLength="46.6" lengthAdjust="spacingAndGlyphs">29%</text>
  <text x="667.5" y="505.4" fill="#fff" textLength="34.2" lengthAdjust="spacingAndGlyphs">5%</text>
  <text x="846.6" y="405.9" fill="#fff" textLength="47.7" lengthAdjust="spacingAndGlyphs">25%</text>
</g>
<text x="525" y="691.5" font-size="15.5" fill="#1a1a1a" textLength="229" lengthAdjust="spacingAndGlyphs">Source: www.towardsfnb.com</text>
</svg>
</body></html>
